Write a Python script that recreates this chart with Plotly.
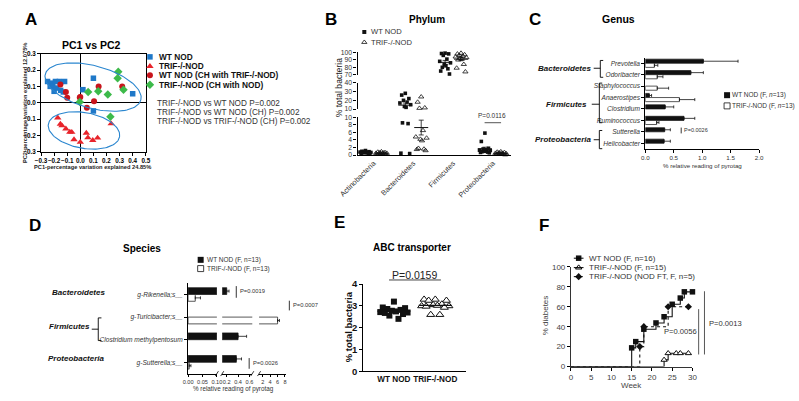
import numpy as np
import plotly.graph_objects as go

W, H = 799, 401
FONT = "Liberation Sans, Arial, Helvetica, sans-serif"
INK = "#222222"

# ================= DATA =================
# --- Panel A : PCoA (PC1, PC2) ---
a_wt_pc1 = [-0.25, -0.23, -0.22, -0.21, -0.20, -0.19, -0.18, -0.16, -0.15, -0.13, -0.12, 0.02, 0.10, 0.10, 0.40]
a_wt_pc2 = [0.13, 0.10, 0.12, 0.10, 0.07, 0.13, 0.09, 0.13, 0.076, 0.066, 0.13, 0.08, 0.15, -0.05, 0.055]
a_trif_pc1 = [-0.172, -0.152, -0.14, -0.11, -0.08, -0.065, -0.048, 0.0, 0.046, 0.058, 0.095, 0.132, 0.236]
a_trif_pc2 = [-0.092, -0.13, -0.14, -0.159, -0.179, -0.18, -0.225, -0.241, -0.185, -0.213, -0.229, -0.215, -0.128]
a_wtch_pc1 = [-0.152, -0.11, -0.10, -0.004, 0.0, 0.05, 0.105, 0.14, 0.32]
a_wtch_pc2 = [0.112, 0.066, 0.03, 0.032, 0.035, -0.03, 0.01, 0.10, 0.10]
a_trifch_pc1 = [0.29, 0.285, 0.33, 0.21, 0.137, 0.06, -0.004, 0.23]
a_trifch_pc2 = [0.19, 0.15, 0.08, 0.05, 0.07, 0.066, 0.005, -0.085]
a_groups = ["WT NOD", "TRIF-/-NOD", "WT NOD (CH with TRIF-/-NOD)", "TRIF-/-NOD (CH with NOD)"]
a_pvals = ["TRIF-/-NOD vs WT NOD P=0.002",
           "TRIF-/-NOD vs WT NOD (CH) P=0.002",
           "TRIF-/-NOD vs TRIF-/-NOD (CH) P=0.002"]

# --- Panel B : phylum (% total bacteria) ---
b_phyla = ["Actinobacteria", "Bacteroidetes", "Firmicutes", "Proteobacteria"]
b_act_wt = [1.2, 1.0, 0.9, 0.9, 0.8, 0.8, 0.7, 0.7, 0.6, 0.6, 0.5, 0.5, 0.4]
b_act_trif = [0.9, 0.8, 0.7, 0.6, 0.6, 0.5, 0.5, 0.4, 0.4, 0.3, 0.3, 0.2, 0.2]
b_bac_wt = [28, 26, 22, 20, 18, 17, 15, 13, 12, 8.5, 8.3, 0.5, 0.4]
b_bac_trif = [24, 18, 11, 11.5, 6.5, 4.8, 4.5, 4.2, 3.8, 1.8, 1.5, 1.2, 1.6]
b_fir_wt = [99, 98.5, 98, 96, 91, 88, 86, 84, 82, 80, 78, 75, 71]
b_fir_trif = [99, 98, 97, 96, 95, 94, 93, 92, 91, 90, 84, 79, 74]
b_pro_wt = [5.8, 3.6, 1.8, 1.6, 1.4, 1.3, 1.2, 1.1, 1.0, 0.9, 0.8, 0.7, 0.6]
b_pro_trif = [0.9, 0.8, 0.7, 0.6, 0.5, 0.5, 0.4, 0.4, 0.3, 0.3, 0.2, 0.2, 0.1]
b_segments = [(0, 10), (10, 40), (70, 100)]
b_pval = "P=0.0116"

# --- Panel C : genus ---
c_genus = ["Prevotella", "Odoribacter", "Staphylococcus", "Anaerostipes",
           "Clostridium", "Ruminococcus", "Sutterella", "Helicobacter"]
c_wt = [1.02, 0.80, 0.0, 0.07, 0.35, 0.68, 0.34, 0.33]
c_wt_err = [0.61, 0.22, 0.0, 0.04, 0.15, 0.19, 0.10, 0.11]
c_trif = [0.16, 0.21, 0.21, 0.60, 0.0, 0.20, 0.0, 0.0]
c_trif_err = [0.06, 0.10, 0.20, 0.27, 0.0, 0.04, 0.0, 0.0]

# --- Panel D : species ---
d_species = ["g-Rikenella;s__", "g-Turicibacter;s__", "Clostridium methylpentosum", "g-Sutterella;s__"]
d_wt = [0.20, 0.0, 0.40, 0.37]
d_wt_err = [0.04, 0.0, 0.15, 0.09]
d_trif = [0.025, 6.0, 0.0, 0.004]
d_trif_err = [0.018, 0.5, 0.0, 0.006]
d_segments = [(0, 0.10), (0.12, 0.65), (1.0, 8.2)]

# --- Panel E : ABC transporter ---
e_groups = ["WT NOD", "TRIF-/-NOD"]
e_wt = [3.2, 2.93, 2.9, 2.86, 2.82, 2.78, 2.75, 2.72, 2.7, 2.68, 2.63, 2.56, 2.41]
e_trif = [3.3, 3.3, 3.25, 3.25, 3.08, 3.05, 3.02, 3.0, 3.0, 2.98, 2.93, 2.6, 2.6]

# --- Panel F : diabetes incidence ---
f_wt_week = [0, 15, 16, 18, 21, 23, 25, 27, 28, 30]
f_wt_pct = [0, 18.75, 25, 37.5, 43.75, 50, 62.5, 68.75, 75, 75]
f_trif_week = [0, 23, 24, 26, 27, 29]
f_trif_pct = [0, 6.67, 13.33, 13.33, 13.33, 13.33]
f_ft_week = [0, 17, 18, 24, 29]
f_ft_pct = [0, 20, 40, 60, 60]
f_labels = ["WT NOD (F, n=16)", "TRIF-/-NOD (F, n=15)", "TRIF-/-NOD (NOD FT, F, n=5)"]

# ================= HELPERS =================
fig = go.Figure()


def dx(x0, x1):
    return [x0 / W, x1 / W]


def dy(ytop, ybot):
    return [1 - ybot / H, 1 - ytop / H]


def fnt(size, bold=False, italic=False, color=INK):
    return dict(family=FONT, size=size, color=color,
                weight="bold" if bold else "normal",
                style="italic" if italic else "normal")


def txt(x, y, s, size, bold=False, italic=False, color=INK, xa="center", ya="middle", angle=0):
    fig.add_annotation(x=x, y=y, xref="x9", yref="y9", text=s, showarrow=False,
                       font=fnt(size, bold, italic, color), xanchor=xa, yanchor=ya,
                       textangle=angle, borderpad=0)


def seg(x0, y0, x1, y1, w=1.0, color="black", dash=None):
    fig.add_shape(type="line", x0=x0, y0=y0, x1=x1, y1=y1, xref="x9", yref="y9",
                  line=dict(color=color, width=w, dash=dash))


def pathshape(pts, w=1.0):
    p = "M " + " L ".join(f"{x} {y}" for x, y in pts)
    fig.add_shape(type="path", path=p, xref="x9", yref="y9", line=dict(color="black", width=w))


def canvas_marker(x, y, symbol, size, color="black", lw=0, lc="black"):
    fig.add_trace(go.Scatter(x=[x], y=[y], xaxis="x9", yaxis="y9", mode="markers",
                             marker=dict(symbol=symbol, size=size, color=color, line=dict(width=lw, color=lc)),
                             showlegend=False, hoverinfo="skip", cliponaxis=False))


AXBASE = dict(showgrid=False, zeroline=False, showline=True, linecolor="black", linewidth=1,
              ticks="outside", ticklen=3, tickwidth=1, tickcolor="black", tickangle=0)

JIT = [0.0, -0.09, 0.09, -0.045, 0.045, -0.135, 0.135, -0.02, 0.02, -0.07, 0.07, -0.11, 0.11]

# ================= PANEL A =================
a_sets = [(a_wt_pc1, a_wt_pc2, "square", "#1f78c8", 5.5),
          (a_trif_pc1, a_trif_pc2, "triangle-up", "#e8242b", 6.5),
          (a_wtch_pc1, a_wtch_pc2, "circle", "#c8141c", 6),
          (a_trifch_pc1, a_trifch_pc2, "diamond", "#3dba4a", 6.5)]
for xs, ys, sym, col, sz in a_sets:
    fig.add_trace(go.Scatter(x=xs, y=ys, xaxis="x", yaxis="y", mode="markers",
                             marker=dict(symbol=sym, size=sz, color=col), showlegend=False,
                             cliponaxis=False))

# ellipses (center in data, semi-axes in px, tilt in degrees)
kx, ky = 0.8 / 108.0, 0.6 / 100.5
t = np.linspace(0, 2 * np.pi, 121)
for cx, cy, ea, eb, th in [(0.0975, 0.096, 51.0, 21.7, 15.0), (0.028, -0.169, 37.3, 18.3, 10.0)]:
    r = np.radians(th)
    ex = cx + (ea * np.cos(t) * np.cos(r) - eb * np.sin(t) * np.sin(r)) * kx
    ey = cy - (ea * np.cos(t) * np.sin(r) + eb * np.sin(t) * np.cos(r)) * ky
    fig.add_trace(go.Scatter(x=ex, y=ey, xaxis="x", yaxis="y", mode="lines",
                             line=dict(color="#2a86cf", width=1.1), showlegend=False, hoverinfo="skip"))

fig.update_layout(
    xaxis=dict(AXBASE, domain=dx(22.7, 130.7), range=[-0.3, 0.5], dtick=0.1, tickformat=".1f",
               mirror=True, zeroline=True, zerolinecolor="black", zerolinewidth=1.4,
               tickfont=fnt(6.3, True, color="black"), anchor="y"),
    yaxis=dict(AXBASE, domain=dy(49, 150), range=[-0.3, 0.3], dtick=0.1, tickformat=".1f",
               mirror=True, zeroline=True, zerolinecolor="black", zerolinewidth=1.4,
               tickfont=fnt(6.3, True, color="black"), anchor="x"),
)
txt(75, 40, "PC1 vs PC2", 10.5, bold=True, color="black")
txt(6, 100, "PC2-percentage variation explained 12.075%", 5.7, bold=True, angle=-90)
txt(76, 165.5, "PC1-percentage variation explained 24.85%", 5.7, bold=True)
leg_y = [52.3, 62, 71.3, 81]
for (xs, ys, sym, col, sz), lab, yy in zip(a_sets, a_groups, leg_y):
    canvas_marker(135, yy, sym, sz, col)
    txt(143, yy, lab, 8.3, bold=True, color="#111", xa="left")
for i, s in enumerate(a_pvals):
    txt(141.5, 100 + 9.2 * i, s, 8.2, color="#333", xa="left")

# ================= PANEL B =================
b_data = [(b_act_wt, b_act_trif), (b_bac_wt, b_bac_trif), (b_fir_wt, b_fir_trif), (b_pro_wt, b_pro_trif)]
b_yaxes = ["y2", "y3", "y4"]


def seg_index(v):
    for k, (lo, hi) in enumerate(b_segments):
        if (k == 0 and lo <= v <= hi) or (k > 0 and lo < v <= hi):
            return k
    return None


for i, (wt, tr) in enumerate(b_data):
    for g, (vals, off) in enumerate([(wt, -0.2), (tr, 0.2)]):
        order = np.argsort(vals)[::-1]
        xs = [i + off + JIT[j % len(JIT)] for j in range(len(vals))]
        ys = [vals[o] for o in order]
        for k in range(3):
            sx = [x for x, v in zip(xs, ys) if seg_index(v) == k]
            sy = [v for v in ys if seg_index(v) == k]
            if not sx:
                continue
            if g == 0:
                mk = dict(symbol="square", size=3.6, color="#111")
            else:
                mk = dict(symbol="triangle-up-open", size=4.6, color="#111", line=dict(width=0.8, color="#111"))
            fig.add_trace(go.Scatter(x=sx, y=sy, xaxis="x2", yaxis=b_yaxes[k], mode="markers",
                                     marker=mk, showlegend=False, cliponaxis=False))
        m = float(np.mean(vals))
        sem = float(np.std(vals, ddof=1) / np.sqrt(len(vals)))
        k = seg_index(m)
        fig.add_trace(go.Scatter(x=[i + off], y=[m], xaxis="x2", yaxis=b_yaxes[k], mode="markers",
                                 marker=dict(symbol="line-ew-open", size=10, color="#111",
                                             line=dict(width=1, color="#111")),
                                 error_y=dict(type="data", array=[sem], color="#111", thickness=0.8, width=2.5),
                                 showlegend=False))

b_dom = [dy(114.3, 153.3), dy(79, 106), dy(47.7, 70.7)]
b_dt = [2, 10, 10]
lay_b = dict(
    xaxis2=dict(AXBASE, domain=dx(349, 507), range=[-0.4, 3.45], anchor="y2", ticks="",
                tickvals=list(range(len(b_phyla))), ticktext=b_phyla, tickangle=-45,
                tickfont=fnt(7.4, color="#333"), linewidth=1.1),
)
for k, name in enumerate(["yaxis2", "yaxis3", "yaxis4"]):
    lay_b[name] = dict(AXBASE, domain=b_dom[k], range=list(b_segments[k]), dtick=b_dt[k], anchor="x2",
                       tickfont=fnt(6.8, color="#333"), linewidth=1.1)
fig.update_layout(**lay_b)
txt(420.5, 13.5, "Phylum", 10, bold=True, color="black")
canvas_marker(356, 26.7, "square", 4, "#111")
txt(361.5, 26.7, "WT NOD", 7.6, color="#333", xa="left")
canvas_marker(356, 37.3, "triangle-up-open", 4.6, "#111", lw=0.8)
txt(361.5, 37.3, "TRIF-/-NOD", 7.6, color="#333", xa="left")
txt(329.5, 84, "% total bacteria", 8.6, color="#222", angle=-90)
txt(488, 112.7, b_pval, 6.5, color="#333")
seg(480, 120, 497, 120, w=1, color="#555")

# ================= PANEL C =================
def nz(a):
    return [v if v > 0 else None for v in a]


for vals, errs, fill, off in [(c_wt, c_wt_err, "#111", -0.36), (c_trif, c_trif_err, "white", 0.0)]:
    fig.add_trace(go.Bar(y=c_genus, x=nz(vals), orientation="h", xaxis="x3", yaxis="y5",
                         width=0.36, offset=off, marker=dict(color=fill, line=dict(color="#111", width=0.7)),
                         error_x=dict(type="data", symmetric=False, array=nz(errs),
                                      arrayminus=[0] * len(errs), color="#111", thickness=0.8, width=1.5),
                         showlegend=False))
fig.update_layout(
    xaxis3=dict(AXBASE, domain=dx(645.7, 763), range=[0, 2], dtick=0.5, tickformat=".1f", anchor="y5",
                tickfont=fnt(6.2, color="#333"), linewidth=1),
    yaxis5=dict(AXBASE, domain=dy(53, 147), type="category", categoryorder="array",
                categoryarray=c_genus, autorange="reversed", anchor="x3",
                tickfont=fnt(6.6, italic=True, color="#333")),
    barmode="overlay",
)
txt(618.3, 13.5, "Genus", 10.5, bold=True, color="black")
txt(704.5, 164, "% relative reading of pyrotag", 6.2, color="#333")
canvas_marker(730, 91.7, "square", 6, "#111")
txt(734.5, 91.7, "WT NOD (F, <i>n</i>=13)", 6.5, color="#333", xa="left")
canvas_marker(730, 102.7, "square-open", 6, "#111", lw=0.8)
txt(734.5, 102.7, "TRIF-/-NOD (F, <i>n</i>=13)", 6.5, color="#333", xa="left")
seg(682.7, 125, 682.7, 131, w=0.8)
txt(685, 128, "P=0.0026", 5.5, color="#333", xa="left")
# phylum brackets
for lab, ytxt, xr, (yb0, yb1), xb, (sx0, sy) in [
        ("Bacteroidetes", 64, 590.5, (56, 73.3), 599.3, (592.5, 64)),
        ("Firmicutes", 101, 587, (79.3, 120), 598.3, (590.5, 101)),
        ("Proteobacteria", 137.5, 591.5, (128, 146.7), 598.3, (592.5, 137.5))]:
    txt(xr, ytxt, lab, 8, bold=True, italic=True, color="#111", xa="right")
    pathshape([(xb + 3, yb0), (xb, yb0), (xb, yb1), (xb + 3, yb1)], w=0.9)
    seg(sx0, sy, xb, sy, w=0.9)

# ================= PANEL D =================
d_xaxes = ["x4", "x5", "x6"]
for xa in d_xaxes:
    for vals, errs, fill, off in [(d_wt, d_wt_err, "#111", -0.3), (d_trif, d_trif_err, "white", 0.0)]:
        fig.add_trace(go.Bar(y=d_species, x=nz(vals), orientation="h", xaxis=xa, yaxis="y6",
                             width=0.3, offset=off, marker=dict(color=fill, line=dict(color="#111", width=0.7)),
                             error_x=dict(type="data", symmetric=False, array=nz(errs),
                                          arrayminus=[0] * len(errs), color="#111", thickness=0.8, width=1.5),
                             showlegend=False))
d_dom = [dx(174.3, 204), dx(209.5, 240.5), dx(247.5, 275)]
d_ticks = [([0, 0.05, 0.10], ["0.00", "0.05", "0.10"]), ([0.2, 0.4, 0.6], ["0.2", "0.4", "0.6"]),
           ([2, 4, 6, 8], ["2", "4", "6", "8"])]
lay_d = {}
for k, name in enumerate(["xaxis4", "xaxis5", "xaxis6"]):
    lay_d[name] = dict(AXBASE, domain=d_dom[k], range=list(d_segments[k]), anchor="y6", ticklen=2.5,
                       tickvals=d_ticks[k][0], ticktext=d_ticks[k][1], tickfont=fnt(5.6, color="#333"))
lay_d["yaxis6"] = dict(AXBASE, domain=dy(285, 378), type="category", categoryorder="array",
                       categoryarray=d_species, autorange="reversed", anchor="x4",
                       tickfont=fnt(6.6, italic=True, color="#333"))
fig.update_layout(**lay_d)
for xb in [204, 209.5, 240.5, 247.5]:
    seg(xb - 1.6, 380.5, xb + 1.6, 375.5, w=0.8)
txt(126.5, 249.3, "Species", 10, bold=True, color="black")
canvas_marker(187.3, 261, "square", 6, "#111")
txt(192.7, 261, "WT NOD (F, n=13)", 6.5, color="#333", xa="left")
canvas_marker(187.3, 270, "square-open", 6, "#111", lw=0.8)
txt(192.7, 270, "TRIF-/-NOD (F, n=13)", 6.5, color="#333", xa="left")
txt(221, 394, "% relative reading of pyrotag", 6.3, color="#333")
for xl, (y0, y1), lab in [(224, (288, 300), "P=0.0019"), (278.7, (303, 313), "P=0.0007"),
                          (237.3, (362, 373), "P=0.0026")]:
    seg(xl, y0, xl, y1, w=0.8)
    txt(xl + 2.5, (y0 + y1) / 2 - 0.5, lab, 5.8, color="#333", xa="left")
txt(89.3, 295, "Bacteroidetes", 8, bold=True, italic=True, color="#111", xa="right")
txt(74.5, 330, "Firmicutes", 8, bold=True, italic=True, color="#111", xa="right")
txt(89.3, 362.7, "Proteobacteria", 8, bold=True, italic=True, color="#111", xa="right")
pathshape([(85, 320.7), (81.7, 320.7), (81.7, 344), (85, 344)], w=0.9)
seg(75, 332.3, 81.7, 332.3, w=0.9)

# ================= PANEL E =================
EJ = [0.0, -0.27, 0.27, -0.16, 0.16, -0.05, 0.05, -0.33, 0.33, -0.22, 0.22, -0.11, 0.11]
for i, (vals, mk) in enumerate([(e_wt, dict(symbol="square", size=6, color="#111")),
                                (e_trif, dict(symbol="triangle-up", size=7, color="white",
                                              line=dict(width=1, color="#111")))]):
    fig.add_trace(go.Scatter(x=[i + EJ[j] for j in range(len(vals))], y=vals, xaxis="x7", yaxis="y7",
                             mode="markers", marker=mk, showlegend=False, cliponaxis=False))
    m = float(np.mean(vals))
    fig.add_trace(go.Scatter(x=[i - 0.4, i + 0.4], y=[m, m], xaxis="x7", yaxis="y7", mode="lines",
                             line=dict(color="#111", width=1.2), showlegend=False, hoverinfo="skip"))
fig.update_layout(
    xaxis7=dict(AXBASE, domain=dx(355, 460.7), range=[-0.74, 1.74], anchor="y7", ticks="",
                tickvals=[0, 1], ticktext=e_groups, tickfont=fnt(8.2, True, color="#111"), linewidth=1.4),
    yaxis7=dict(AXBASE, domain=dy(286, 375.7), range=[0, 4], dtick=1, anchor="x7",
                tickfont=fnt(9.5, True, color="#111"), linewidth=1.4),
)
txt(405, 248.3, "ABC transporter", 10, bold=True, color="black")
txt(408, 276.5, "P=0.0159", 10.5, color="#222")
seg(381.5, 281.7, 435, 281.7, w=1, color="#444")
txt(340.5, 330, "% total bacteria", 9.5, bold=True, color="#111", angle=-90)

# ================= PANEL F =================
f_sets = [(f_wt_week, f_wt_pct, "solid", dict(symbol="square", color="#111")),
          (f_trif_week, f_trif_pct, "solid", dict(symbol="triangle-up", color="white", line=dict(width=1, color="#111"))),
          (f_ft_week, f_ft_pct, "dot", dict(symbol="diamond", color="#111"))]
for wk, pc, dash, mk in f_sets:
    fig.add_trace(go.Scatter(x=wk, y=pc, xaxis="x8", yaxis="y8", mode="lines",
                             line=dict(color="#111", width=1.1, shape="hv", dash=dash),
                             showlegend=False, hoverinfo="skip", cliponaxis=False))
    fig.add_trace(go.Scatter(x=wk[1:], y=pc[1:], xaxis="x8", yaxis="y8", mode="markers",
                             marker=dict(mk, size=5.5), showlegend=False, cliponaxis=False))
fig.update_layout(
    xaxis8=dict(AXBASE, domain=dx(569, 694.3), range=[0, 30], dtick=5, anchor="y8",
                tickfont=fnt(8, color="#444"), linecolor="#333"),
    yaxis8=dict(AXBASE, domain=dy(268.3, 370.7), range=[0, 100], dtick=20, anchor="x8",
                tickfont=fnt(8, color="#444"), linecolor="#333"),
)
txt(631.7, 390.5, "Week", 8, color="#444")
txt(543, 318.3, "% diabetes", 8, color="#444", angle=-90)
for (wk, pc, dash, mk), lab, yy in zip(f_sets, f_labels, [259.3, 269, 278.3]):
    seg(572, yy, 582, yy, w=1, dash=dash)
    canvas_marker(577, yy, mk["symbol"], 5.5, mk["color"], lw=1 if mk["color"] == "white" else 0)
    txt(586.7, yy, lab, 8, color="#333", xa="left")
seg(700.7, 311.7, 700.7, 358.3, w=0.9, color="#444")
txt(682, 335, "P=0.0056", 7.6, color="#333")
seg(706.7, 293.3, 706.7, 358.3, w=0.9, color="#444")
txt(710, 326, "P=0.0013", 7.6, color="#333", xa="left")

# ================= PANEL LETTERS =================
for s, x, y in [("A", 12.5, 14), ("B", 321.5, 14), ("C", 532, 13.5), ("D", 16, 226),
                ("E", 330.5, 223), ("F", 541.3, 226)]:
    txt(x, y, s, 17, bold=True, color="black")

# ================= CANVAS & LAYOUT =================
fig.update_layout(
    xaxis9=dict(domain=[0, 1], range=[0, W], visible=False, fixedrange=True, anchor="y9"),
    yaxis9=dict(domain=[0, 1], range=[H, 0], visible=False, fixedrange=True, anchor="x9"),
    width=W, height=H, autosize=False,
    margin=dict(l=0, r=0, t=0, b=0),
    paper_bgcolor="white", plot_bgcolor="rgba(0,0,0,0)",
    showlegend=False,
    font=dict(family=FONT, color=INK),
)

fig.write_html("out.html", config={"displayModeBar": False},
               post_script="document.body.style.margin='0';document.body.style.overflow='hidden';")
